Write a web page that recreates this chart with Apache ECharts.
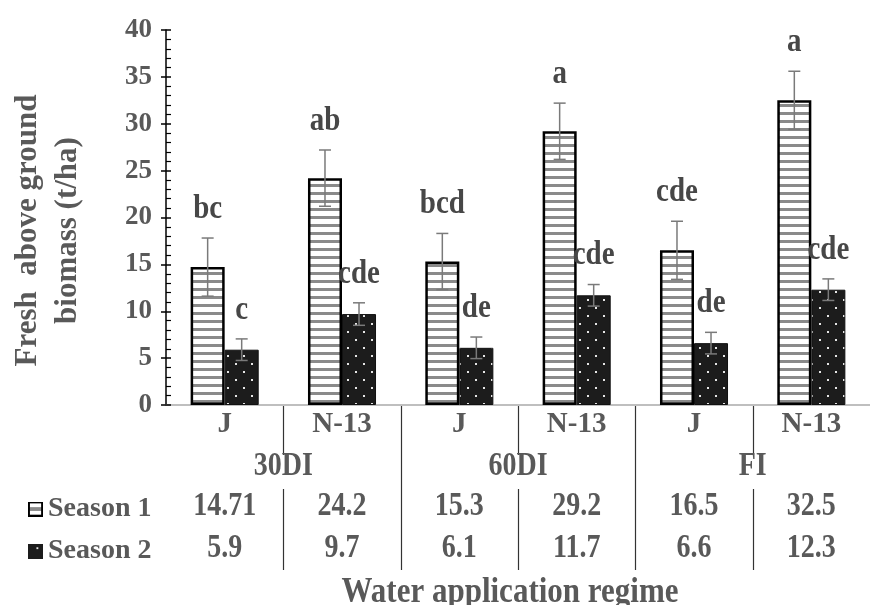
<!DOCTYPE html>
<html><head><meta charset="utf-8">
<script src="https://cdn.jsdelivr.net/npm/echarts@6/dist/echarts.min.js"></script>
<style>html,body{margin:0;padding:0;background:#fff}#c{width:870px;height:605px}</style>
</head><body><div id="c"></div>
<script>
// ---- data ----
const subCategories = ['J', 'N-13', 'J', 'N-13', 'J', 'N-13'];
const groups = ['30DI', '60DI', 'FI'];
const seriesNames = ['Season 1', 'Season 2'];
const season1 = [14.71, 24.2, 15.3, 29.2, 16.5, 32.5];
const season2 = [5.9, 9.7, 6.1, 11.7, 6.6, 12.3];
const season1Err = [3.1, 3.0, 3.0, 3.0, 3.1, 3.1];
const season2Err = [1.15, 1.2, 1.15, 1.15, 1.15, 1.15];
const season1Letters = ['bc', 'ab', 'bcd', 'a', 'cde', 'a'];
const season2Letters = ['c', 'cde', 'de', 'cde', 'de', 'cde'];
const yMin = 0, yMax = 40, yStep = 5;
const yTitle = 'Fresh  above ground\nbiomass (t/ha)';
const xTitle = 'Water application regime';

// ---- styles ----
const FONT = "'Liberation Serif', 'Times New Roman', serif";
const TXT = '#595959';
const CAT_GAP = 0.42;
const TALL = 1.18;

function makeCanvas(w, h, draw) {
  const c = document.createElement('canvas');
  c.width = w; c.height = h;
  draw(c.getContext('2d'));
  return c;
}
const stripe = makeCanvas(8, 8, g => {
  g.fillStyle = '#fff'; g.fillRect(0, 0, 8, 8);
  g.fillStyle = '#8a8a8a'; g.fillRect(0, 0, 8, 3);
});
const dots = makeCanvas(16, 16, g => {
  g.fillStyle = '#1c1c1c'; g.fillRect(0, 0, 16, 16);
  g.fillStyle = '#e6e6e6'; g.fillRect(3, 3, 2, 2); g.fillRect(11, 11, 2, 2);
});
const key1 = makeCanvas(16, 16, g => {
  g.fillStyle = '#000'; g.fillRect(0, 0, 16, 16);
  g.fillStyle = '#fff'; g.fillRect(2, 2, 12, 12);
  g.fillStyle = '#8a8a8a'; g.fillRect(2, 6, 12, 4);
});
const key2 = makeCanvas(16, 16, g => {
  g.fillStyle = '#1c1c1c'; g.fillRect(0, 0, 16, 16);
  g.fillStyle = '#e6e6e6'; g.fillRect(9, 4, 2, 2);
});

const chart = echarts.init(document.getElementById('c'));

function errorSeries(idx, vals, errs, letters) {
  return {
    type: 'custom',
    z: 10,
    silent: true,
    encode: { x: 0, y: 1 },
    data: vals.map((v, i) => [i, v, errs[i]]),
    renderItem(params, api) {
      const i = api.value(0), v = api.value(1), e = api.value(2);
      const band = api.size([1, 0])[0];
      const bw = band * (1 - CAT_GAP) / 2;
      const base = api.coord([i, v]);
      const cx = base[0] + (idx === 0 ? -bw / 2 : bw / 2);
      const top = api.coord([i, v + e])[1];
      const bot = api.coord([i, v - e])[1];
      const ls = { stroke: '#7a7a7a', lineWidth: 1.5 };
      const cap = 6;
      return {
        type: 'group',
        children: [
          { type: 'line', shape: { x1: cx, y1: top, x2: cx, y2: bot }, style: ls },
          { type: 'line', shape: { x1: cx - cap, y1: top, x2: cx + cap, y2: top }, style: ls },
          { type: 'line', shape: { x1: cx - cap, y1: bot, x2: cx + cap, y2: bot }, style: ls },
          { type: 'text', x: cx, y: top - 12, scaleY: TALL,
            style: { text: letters[params.dataIndex], fontFamily: FONT, fontWeight: 'bold', fontSize: 29,
              fill: '#474747', align: 'center', verticalAlign: 'bottom' } }
        ]
      };
    }
  };
}

const option = {
  animation: false,
  backgroundColor: '#fff',
  grid: { left: 160, right: -10, top: 30, bottom: 200, containLabel: false },
  xAxis: {
    type: 'category',
    data: subCategories,
    axisLine: { lineStyle: { color: '#bfbfbf', width: 2 } },
    axisTick: { show: false },
    axisLabel: { fontFamily: FONT, fontWeight: 'bold', fontSize: 29, color: TXT, margin: 5 }
  },
  yAxis: [{
    type: 'value', min: yMin, max: yMax, interval: yStep,
    axisLine: { show: true, lineStyle: { color: '#000', width: 1.5 } },
    axisTick: { show: true, inside: true, length: 5, lineStyle: { color: '#000', width: 1.5 } },
    minorTick: { show: true, splitNumber: 5, length: 5, lineStyle: { color: '#000', width: 1.2 } },
    splitLine: { show: false },
    axisLabel: { fontFamily: FONT, fontWeight: 'bold', fontSize: 27, color: TXT, margin: 14 },
    name: yTitle,
    nameLocation: 'middle',
    nameRotate: 90,
    nameGap: 78,
    nameTextStyle: { fontFamily: FONT, fontWeight: 'bold', fontSize: 31, color: TXT, lineHeight: 40, padding: [0, 26, 0, 0] }
  }, {
    type: 'value', min: yMin, max: yMax, interval: yStep, position: 'left',
    axisLine: { show: false },
    axisTick: { show: true, inside: false, length: 5, lineStyle: { color: '#000', width: 1.5 } },
    axisLabel: { show: false },
    splitLine: { show: false }
  }],
  legend: {
    orient: 'vertical', left: 23, top: 489, itemWidth: 15, itemHeight: 15, itemGap: 12,
    selectedMode: false,
    textStyle: { fontFamily: FONT, fontWeight: 'bold', fontSize: 28, color: TXT, lineHeight: 30 },
    data: [
      { name: seriesNames[0], icon: 'image://' + key1.toDataURL() },
      { name: seriesNames[1], icon: 'image://' + key2.toDataURL() }
    ]
  },
  series: [
    { name: seriesNames[0], type: 'bar', data: season1, barGap: '0%', barCategoryGap: (CAT_GAP * 100) + '%',
      itemStyle: { color: { image: stripe, repeat: 'repeat' }, borderColor: '#000', borderWidth: 2.5 } },
    { name: seriesNames[1], type: 'bar', data: season2,
      itemStyle: { color: { image: dots, repeat: 'repeat' }, borderColor: '#111', borderWidth: 1 } },
    errorSeries(0, season1, season1Err, season1Letters),
    errorSeries(1, season2, season2Err, season2Letters)
  ]
};
chart.setOption(option);

// ---- data table under the axis ----
const px = i => chart.convertToPixel({ xAxisIndex: 0 }, i);
const band = px(1) - px(0);
const axisY = chart.convertToPixel({ yAxisIndex: 0 }, 0);
const g = [];
const lineStyle = { stroke: '#333', lineWidth: 1.2 };
const rowGroupY = axisY + 61, rowS1Y = axisY + 101, rowS2Y = axisY + 143, tableBottom = axisY + 165;
for (let i = 1; i < subCategories.length; i++) {
  const x = Math.round(px(i) - band / 2) + 0.5;
  if (i % 2 === 0) {
    g.push({ type: 'line', shape: { x1: x, y1: axisY, x2: x, y2: tableBottom }, style: lineStyle });
  } else {
    g.push({ type: 'line', shape: { x1: x, y1: axisY, x2: x, y2: axisY + 50 }, style: lineStyle });
    g.push({ type: 'line', shape: { x1: x, y1: axisY + 84, x2: x, y2: tableBottom }, style: lineStyle });
  }
}
const tText = (t, size, x, y) => ({ type: 'text', x: x, y: y, scaleY: TALL,
  style: { text: t, fontFamily: FONT, fontWeight: 'bold', fontSize: size, fill: TXT, align: 'center', verticalAlign: 'middle' } });
groups.forEach((name, k) => {
  const cx = (px(2 * k) + px(2 * k + 1)) / 2;
  g.push(tText(name, 28, cx, rowGroupY));
});
season1.forEach((v, i) => g.push(tText(String(v), 28, px(i), rowS1Y)));
season2.forEach((v, i) => g.push(tText(String(v), 28, px(i), rowS2Y)));
g.push(tText(xTitle, 31, 510, axisY + 188));
chart.setOption({ graphic: g });
</script>
</body></html>
